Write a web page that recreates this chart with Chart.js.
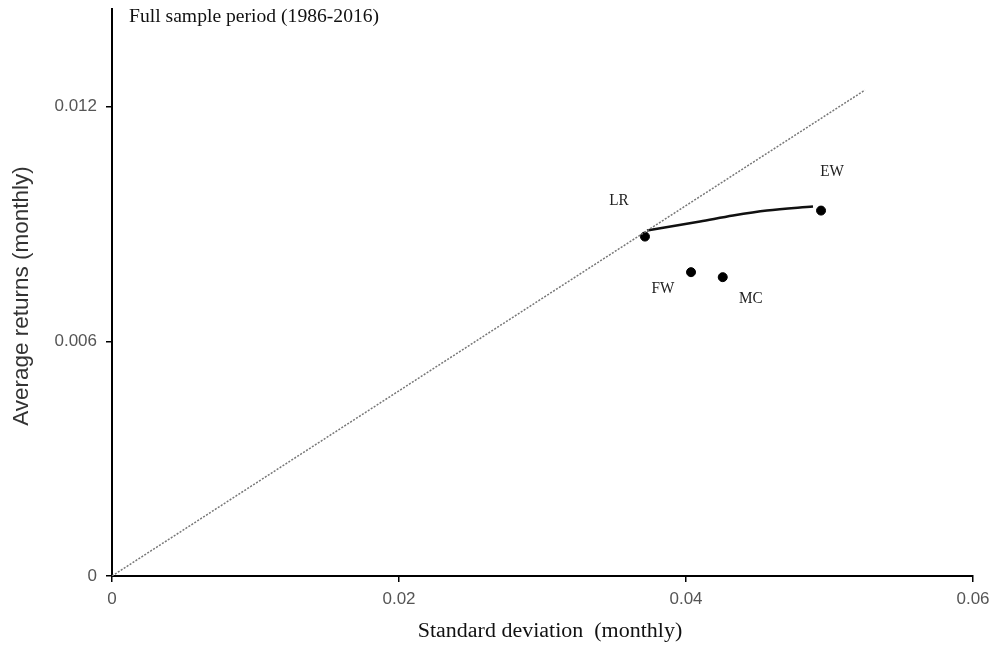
<!DOCTYPE html>
<html>
<head>
<meta charset="utf-8">
<title>Full sample period (1986-2016)</title>
<script src="https://cdn.jsdelivr.net/npm/chart.js"></script>
<style>
  body { margin: 0; background: #fff; }
  #wrap { width: 993px; height: 651px; }
</style>
</head>
<body>
<div id="wrap"><canvas id="chart" width="993" height="651"></canvas></div>
<script>
// data
const portfolioNames = ['LR', 'EW', 'FW', 'MC'];
const portfolioSd = [0.03714, 0.04941, 0.04035, 0.04256];
const portfolioRet = [0.00868, 0.009345, 0.00777, 0.007642];

// efficient frontier between LR and EW
const frontierSd = [0.03728, 0.04098, 0.04328, 0.04564, 0.04885];
const frontierRet = [0.008834, 0.009064, 0.009217, 0.009345, 0.009447];

// capital line from origin through LR
const lineSd = [0, 0.05247];
const lineRet = [0, 0.012426];

const xTicks = [0, 0.02, 0.04, 0.06];
const yTicks = [0, 0.006, 0.012];

const chartTitle = 'Full sample period (1986-2016)';
const xTitle = 'Standard deviation  (monthly)';
const yTitle = 'Average returns (monthly)';

function pts(xs, ys) {
  return xs.map((x, i) => ({ x: x, y: ys[i] }));
}

// label offsets in pixels from each portfolio point
const labelOffset = { LR: [-26, -36], EW: [11, -39], FW: [-28, 17], MC: [28, 22] };

// the source picture is a bit wider than tall, stretch text to match
function stretchText(ctx, txt, x, y, sx) {
  ctx.save();
  ctx.translate(x, y);
  ctx.scale(sx, 1);
  ctx.fillText(txt, 0, 0);
  ctx.restore();
}

// keep the plot box fixed, no extra room for tick label overhang
function noPad(s) {
  s.paddingTop = 0;
  s.paddingBottom = 0;
  s.paddingLeft = 0;
  s.paddingRight = 0;
}

const textPlugin = {
  id: 'texts',
  afterDraw(chart) {
    const ctx = chart.ctx;
    const xs = chart.scales.x, ys = chart.scales.y;
    ctx.save();
    ctx.fillStyle = '#222';
    ctx.textAlign = 'center';
    ctx.textBaseline = 'middle';
    ctx.font = '16px "Liberation Serif"';
    portfolioNames.forEach((n, i) => {
      const px = xs.getPixelForValue(portfolioSd[i]);
      const py = ys.getPixelForValue(portfolioRet[i]);
      const o = labelOffset[n];
      stretchText(ctx, n, px + o[0], py + o[1], 0.95);
    });
    // title inside the plot
    ctx.textAlign = 'left';
    ctx.fillStyle = '#111';
    ctx.font = '18px "Liberation Serif"';
    stretchText(ctx, chartTitle, 129, 17, 1.09);
    // x title
    ctx.textAlign = 'center';
    ctx.font = '20px "Liberation Serif"';
    stretchText(ctx, xTitle, 550, 632, 1.1);
    // y title
    ctx.translate(22, 296);
    ctx.rotate(-Math.PI / 2);
    ctx.font = '22.5px "Liberation Sans"';
    ctx.fillStyle = '#333';
    ctx.fillText(yTitle, 0, 0);
    ctx.restore();
  }
};

new Chart(document.getElementById('chart'), {
  type: 'scatter',
  data: {
    datasets: [
      {
        label: 'line',
        data: pts(lineSd, lineRet),
        showLine: true,
        borderColor: '#777',
        borderWidth: 1.5,
        borderDash: [2, 1.5],
        pointRadius: 0
      },
      {
        label: 'frontier',
        data: pts(frontierSd, frontierRet),
        showLine: true,
        borderColor: '#111',
        borderWidth: 2.5,
        cubicInterpolationMode: 'monotone',
        pointRadius: 0
      },
      {
        label: 'portfolios',
        data: pts(portfolioSd, portfolioRet),
        backgroundColor: '#000',
        borderColor: '#000',
        pointRadius: 4.5
      }
    ]
  },
  options: {
    responsive: false,
    animation: false,
    events: [],
    layout: { padding: { left: 0, right: 20, top: 9, bottom: 0 } },
    plugins: {
      legend: { display: false },
      tooltip: { enabled: false }
    },
    scales: {
      x: {
        type: 'linear',
        min: 0,
        max: 0.06,
        afterBuildTicks: (s) => { s.ticks = xTicks.map(v => ({ value: v })); },
        afterFit: (s) => { s.height = 75; noPad(s); },
        grid: { drawOnChartArea: false, drawTicks: true, tickLength: 6, color: '#000', lineWidth: 1.5 },
        border: { color: '#000', width: 2 },
        ticks: {
          padding: 7,
          color: '#555',
          font: { family: '"Liberation Sans"', size: 17 },
          callback: (v) => String(v)
        }
      },
      y: {
        type: 'linear',
        min: 0,
        max: 0.0145,
        afterBuildTicks: (s) => { s.ticks = yTicks.map(v => ({ value: v })); },
        afterFit: (s) => { s.width = 112; noPad(s); },
        grid: { drawOnChartArea: false, drawTicks: true, tickLength: 6, color: '#000', lineWidth: 1.5 },
        border: { color: '#000', width: 2 },
        ticks: {
          padding: 9,
          color: '#555',
          font: { family: '"Liberation Sans"', size: 17 },
          callback: (v) => String(v)
        }
      }
    }
  },
  plugins: [textPlugin]
});
</script>
</body>
</html>
